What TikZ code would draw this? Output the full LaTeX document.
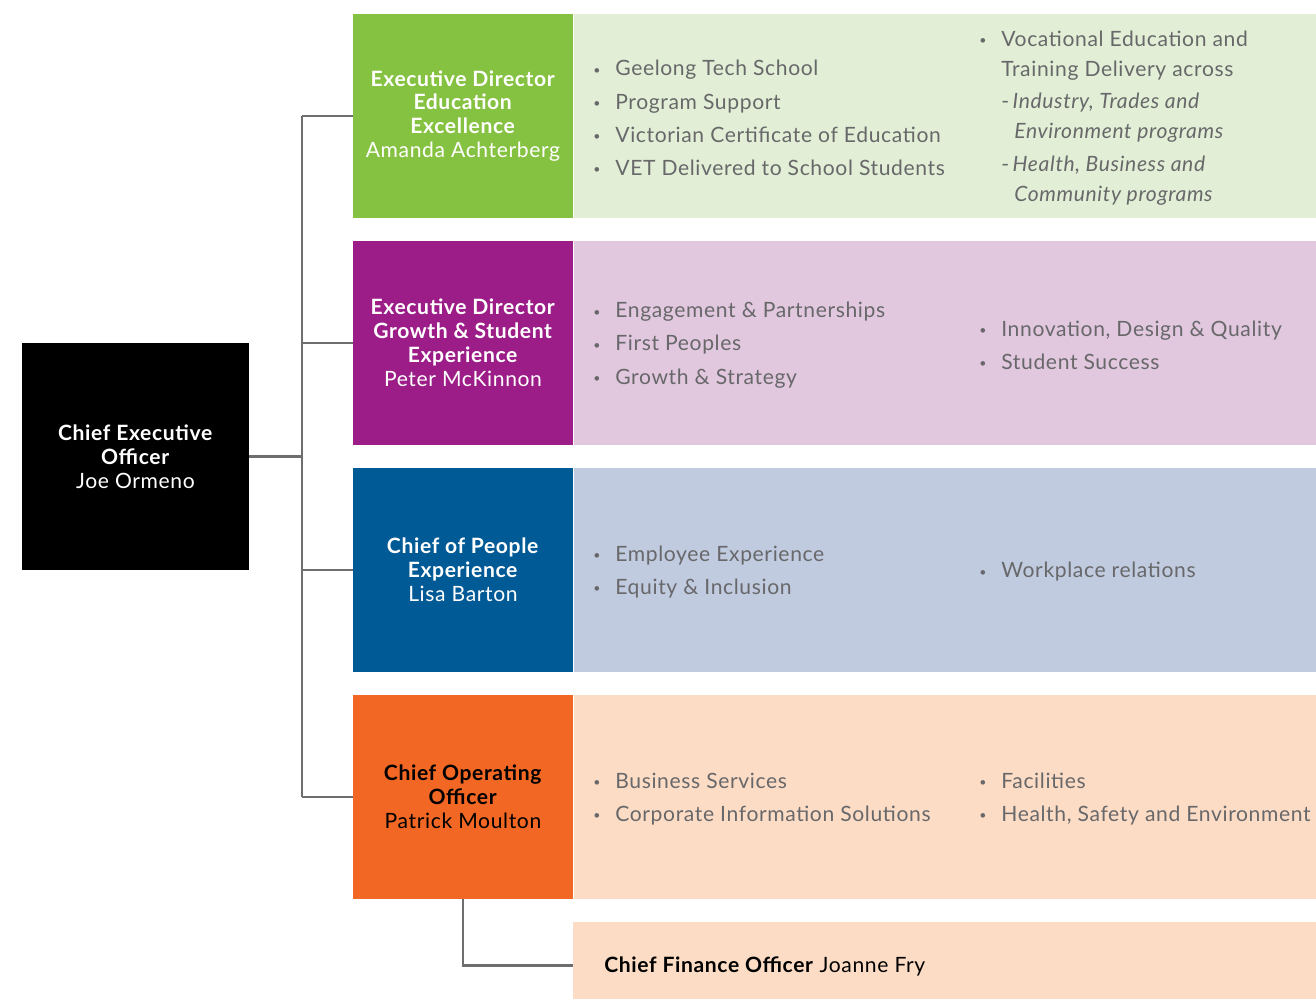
\documentclass[tikz,border=0pt]{standalone}
\usepackage{fontspec}
\setmainfont{Lato}[LetterSpace=3]
\usepackage{xcolor}
\definecolor{colorg}{RGB}{134,194,65}
\definecolor{colorgl}{RGB}{226,239,214}
\definecolor{colorp}{RGB}{156,29,135}
\definecolor{colorpl}{RGB}{225,200,222}
\definecolor{colorb}{RGB}{0,90,150}
\definecolor{colorbl}{RGB}{192,203,223}
\definecolor{coloro}{RGB}{241,103,35}
\definecolor{colorol}{RGB}{252,220,197}
\definecolor{colort}{RGB}{104,104,106}
\definecolor{colorl}{RGB}{110,110,110}
\usepackage{tikz}
\usetikzlibrary{positioning}
\tikzstyle{head} = [rectangle, inner sep=0pt, minimum width=4.4cm, minimum height=4.08cm, align=center, text=white, font=\fontsize{12}{13.6}\selectfont]
\tikzstyle{band} = [rectangle, inner sep=0pt, minimum width=14.86cm, minimum height=4.08cm]
\tikzstyle{items} = [anchor=west, inner sep=0pt, align=left, text=colort, font=\fontsize{12}{17}\selectfont]
\tikzstyle{link} = [draw=colorl, line width=1.6pt]
\newcommand{\itm}[1]{\makebox[0.44cm][l]{\raisebox{0.15ex}{\scriptsize\textbullet}}#1}
\newcommand{\sub}{\hspace*{0.44cm}}

\begin{document}
\begin{tikzpicture}[x=0.02cm, y=-0.02cm]
  \clip (0,0) rectangle (1316,999);
  \fill[white] (0,0) rectangle (1316,999);

  \node[head, fill=black, minimum width=4.54cm, minimum height=4.54cm] (ceo) at (135.5,456.5)
    {\textbf{Chief Executive}\\\textbf{Officer}\\Joe Ormeno};

  \node[head, fill=colorg] (edu) at (463,116)
    {\textbf{Executive Director}\\\textbf{Education}\\\textbf{Excellence}\\Amanda Achterberg};
  \node[head, fill=colorp] (growth) at (463,343)
    {\textbf{Executive Director}\\\textbf{Growth \& Student}\\\textbf{Experience}\\Peter McKinnon};
  \node[head, fill=colorb] (people) at (463,570)
    {\textbf{Chief of People}\\\textbf{Experience}\\Lisa Barton};
  \node[head, fill=coloro, text=black] (ops) at (463,797)
    {\textbf{Chief Operating}\\\textbf{Officer}\\Patrick Moulton};

  \node[band, fill=colorgl, right=0pt of edu] (edub) {};
  \node[band, fill=colorpl, right=0pt of growth] (growthb) {};
  \node[band, fill=colorbl, right=0pt of people] (peopleb) {};
  \node[band, fill=colorol, right=0pt of ops] (opsb) {};
  \node[band, fill=colorol, minimum height=1.72cm, anchor=north west] (cfo) at (573,922) {};

  % bullet columns
  \node[items] (edu1) at (593,118)
    {\itm{Geelong Tech School}\\[1.9pt]\itm{Program Support}\\[1.9pt]
     \itm{Victorian Certificate of Education}\\[1.9pt]\itm{VET Delivered to School Students}};
  \node[items] (edu2) at (979,118)
    {\itm{Vocational Education and}\\\sub Training Delivery across\\[1.7pt]
     \sub-\,\textit{Industry, Trades and}\\\sub\hspace*{0.26cm}\textit{Environment programs}\\[1.7pt]
     \sub-\,\textit{Health, Business and}\\\sub\hspace*{0.26cm}\textit{Community programs}};

  \node[items] (growth1) at (593,345)
    {\itm{Engagement \& Partnerships}\\[1.9pt]\itm{First Peoples}\\[1.9pt]\itm{Growth \& Strategy}};
  \node[items] (growth2) at (979,345)
    {\itm{Innovation, Design \& Quality}\\[1.9pt]\itm{Student Success}};

  \node[items] (people1) at (593,572)
    {\itm{Employee Experience}\\[1.9pt]\itm{Equity \& Inclusion}};
  \node[items] (people2) at (979,572) {\itm{Workplace relations}};

  \node[items] (ops1) at (593,799)
    {\itm{Business Services}\\[1.9pt]\itm{Corporate Information Solutions}};
  \node[items] (ops2) at (979,799)
    {\itm{Facilities}\\[1.9pt]\itm{Health, Safety and Environment}};

  \node[items, text=black] (cfotext) at (604,966) {\textbf{Chief Finance Officer} Joanne Fry};

  % reporting lines
  \coordinate (bus) at (302,456.5);
  \draw[link] (ceo.east) -- (bus);
  \draw[link] (bus |- edu.west) -- (bus |- ops.west);
  \foreach \n in {edu,growth,people,ops}
  \draw[link] (bus |- \n.west) -- (\n.west);
  \draw[link] (ops.south) |- (cfo.west);
\end{tikzpicture}
\end{document}
